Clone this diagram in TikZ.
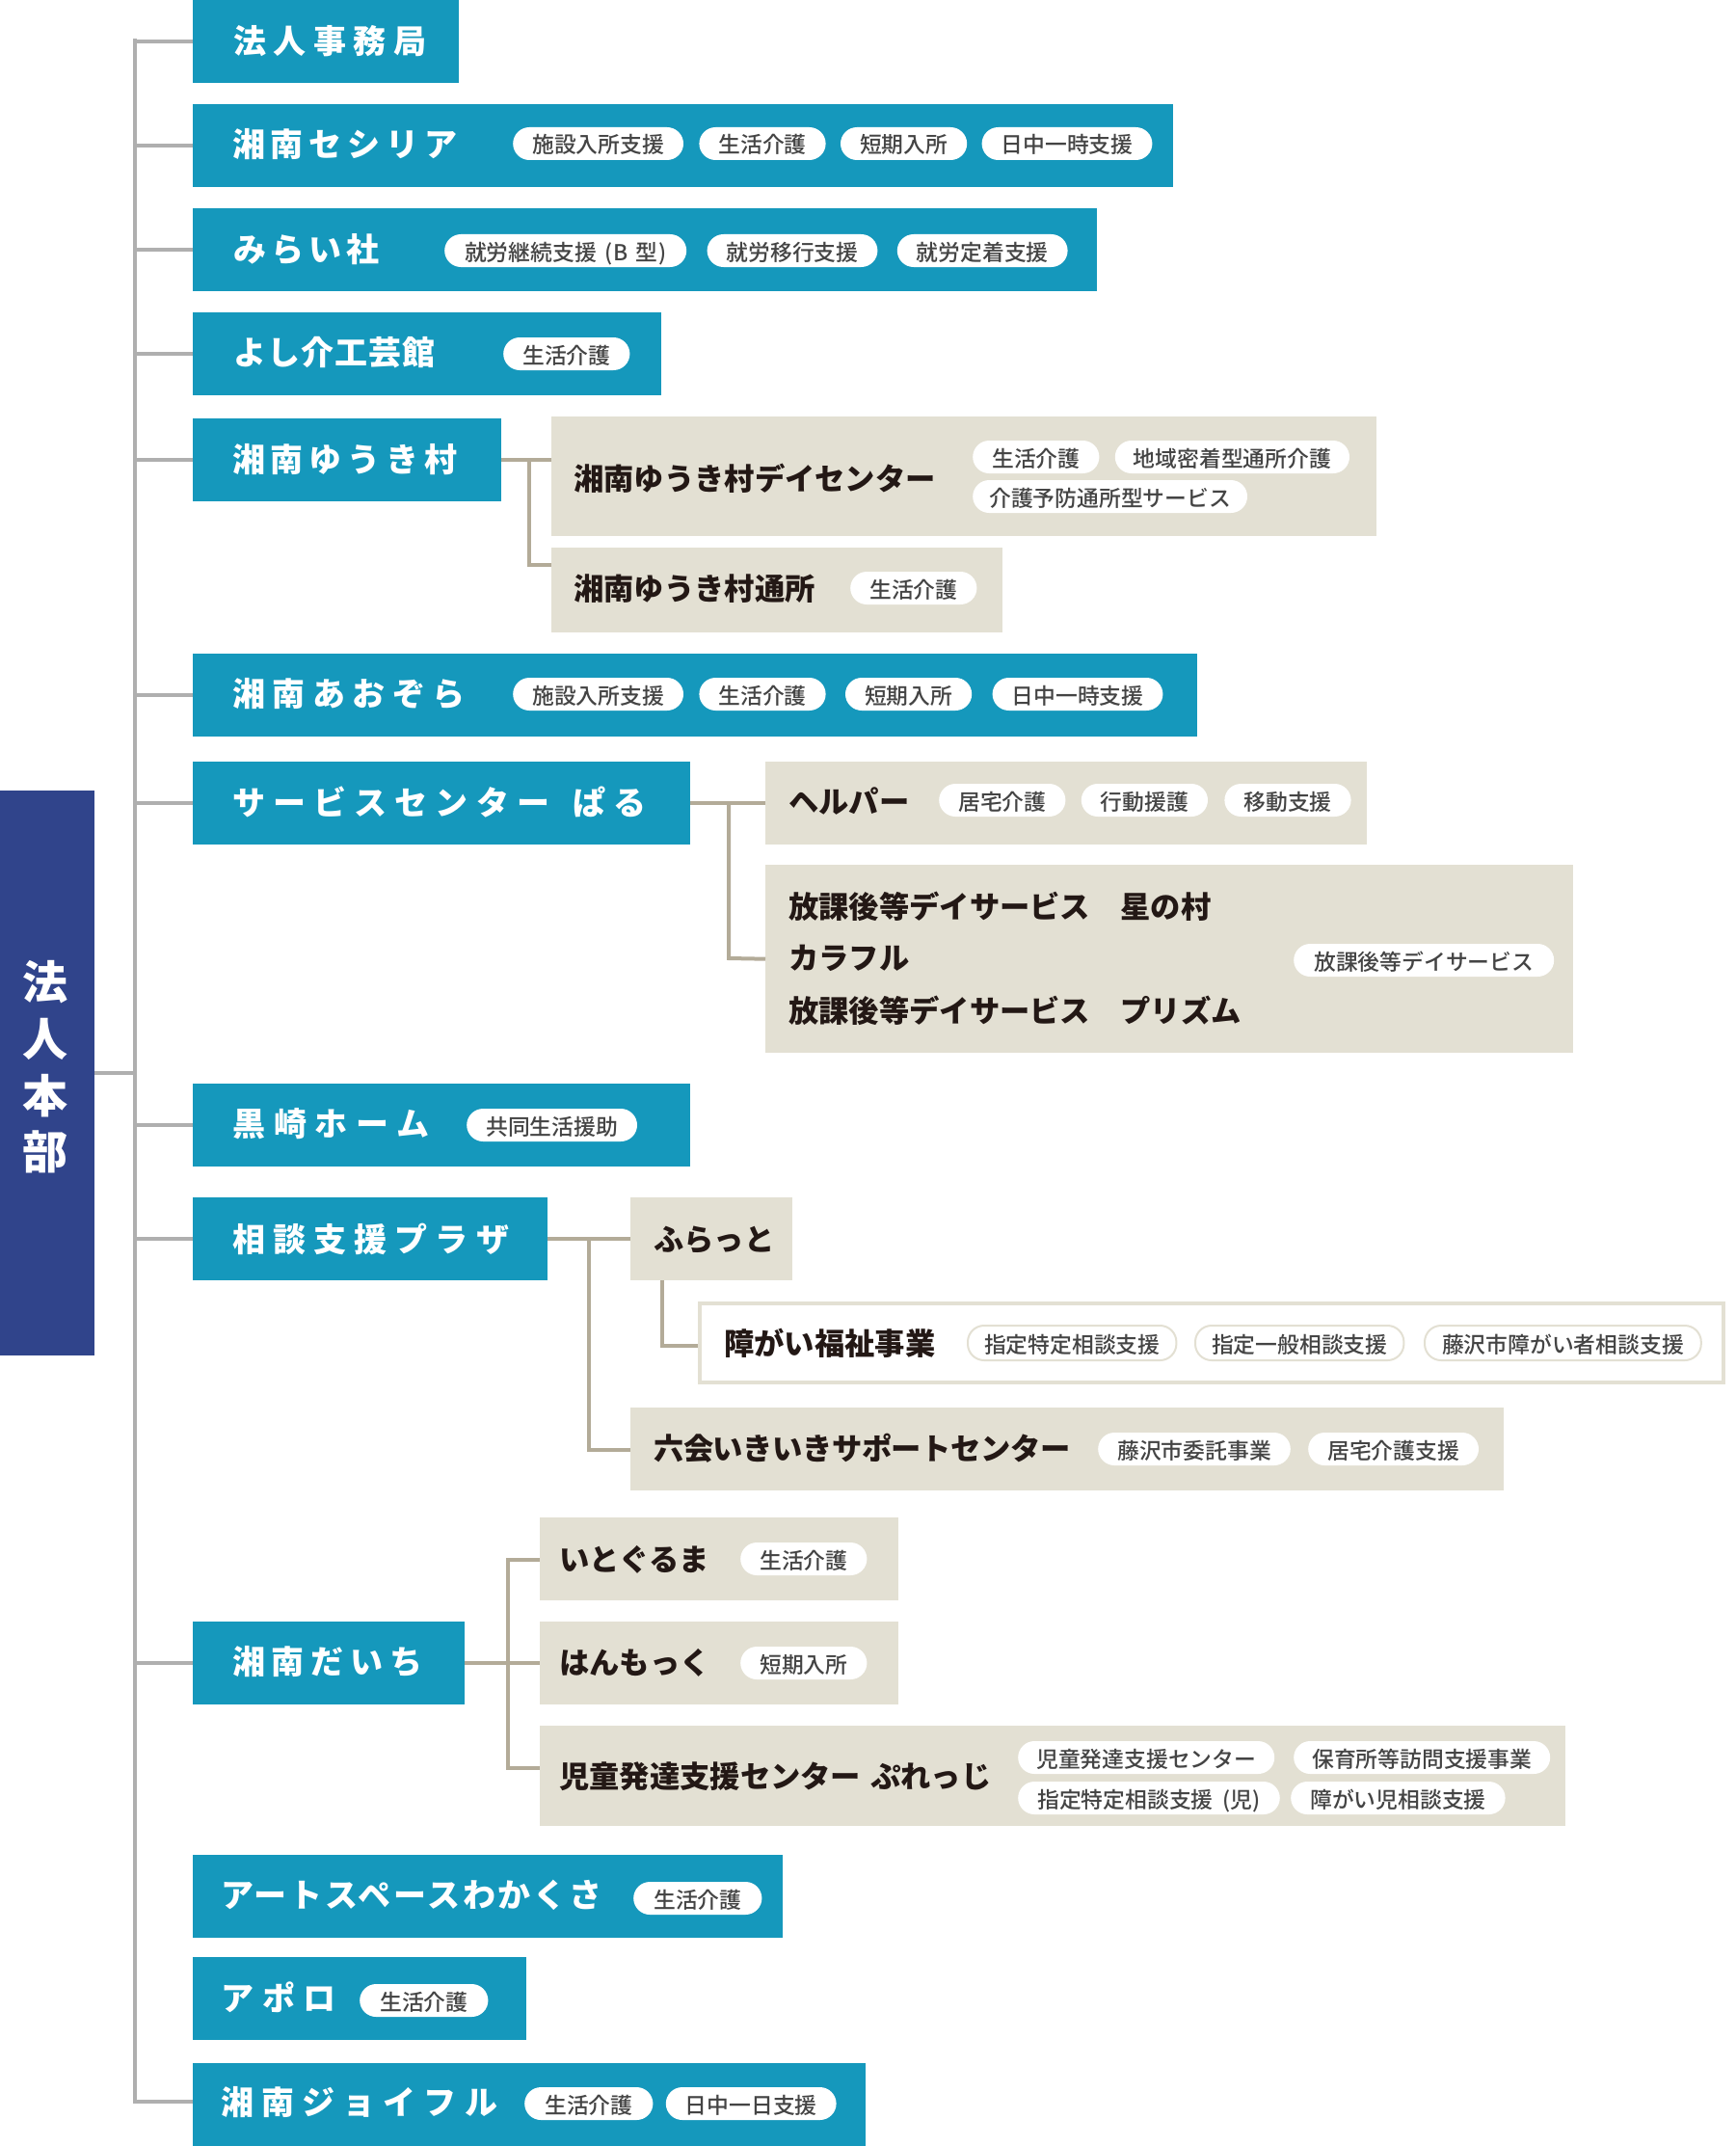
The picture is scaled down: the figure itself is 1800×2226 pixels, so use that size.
\documentclass[tikz,border=0pt]{standalone}
\usepackage{fontspec}
\setmainfont{Noto Sans CJK JP}
\newfontfamily\tagfont{Noto Sans CJK JP Medium}
\usetikzlibrary{positioning}
\definecolor{mainblue}{HTML}{1598BC}
\definecolor{rootblue}{HTML}{30448B}
\definecolor{subbeige}{HTML}{E3E0D3}
\definecolor{subline}{HTML}{B3AB98}
\definecolor{trunkgray}{HTML}{AFAFAF}
\definecolor{subtext}{HTML}{231815}
\definecolor{tagtext}{HTML}{444444}
\tikzset{
  mainbox/.style={fill=mainblue,anchor=north west,minimum height=86pt,inner sep=0pt},
  subbox/.style={fill=subbeige,anchor=north west,minimum height=86pt,inner sep=0pt},
  outbox/.style={draw=subbeige,line width=4pt,fill=white,anchor=north west,inner sep=0pt},
  maintitle/.style={anchor=west,inner sep=0pt,text=white,font=\fontsize{34}{34}\selectfont\bfseries\addfontfeature{LetterSpace=#1}},
  subtitle/.style={anchor=west,inner sep=0pt,text=subtext,font=\fontsize{31.3}{31.3}\selectfont\bfseries\addfontfeature{LetterSpace=#1}},
  subtitle/.default=0,
  tag/.style={fill=white,rounded corners=17pt,anchor=west,minimum height=34pt,inner xsep=20pt,inner ysep=0pt,text height=23pt,text depth=3pt,text=tagtext,font=\tagfont\fontsize{22.8}{22.8}\selectfont},
  outtag/.style={tag,draw=subbeige,line width=2pt,minimum height=36pt,inner xsep=17pt},
  trunkline/.style={draw=trunkgray,line width=4pt},
  joinline/.style={draw=subline,line width=4pt}
}
\begin{document}
\begin{tikzpicture}[x=1pt,y=-1pt]
\useasboundingbox (0,0) rectangle (1800,2226);

\coordinate (trunktop) at (140,42);
\coordinate (trunkbot) at (140,2180);
\draw[trunkline,line cap=rect] (trunktop) -- (trunkbot);

\node[fill=rootblue,anchor=north west,minimum width=98pt,minimum height=586pt,inner sep=0pt] (honbu) at (0,820) {};
\node[inner sep=0pt,align=center,text=white,font=\fontsize{47}{58.6}\selectfont\bfseries] (honbut) at (47,1107) {法\\人\\本\\部};
\draw[trunkline] (honbu.east) -- (trunktop |- honbu.east);

% main rows
\node[mainbox,minimum width=276pt] (n1) at (200,0) {};
\node[mainbox,minimum width=1017pt] (n2) at (200,108) {};
\node[mainbox,minimum width=938pt] (n3) at (200,216) {};
\node[mainbox,minimum width=486pt] (n4) at (200,324) {};
\node[mainbox,minimum width=320pt] (n5) at (200,434) {};
\node[mainbox,minimum width=1042pt] (n6) at (200,678) {};
\node[mainbox,minimum width=516pt] (n7) at (200,790) {};
\node[mainbox,minimum width=516pt] (n8) at (200,1124) {};
\node[mainbox,minimum width=368pt] (n9) at (200,1242) {};
\node[mainbox,minimum width=282pt] (n10) at (200,1682) {};
\node[mainbox,minimum width=612pt] (n11) at (200,1924) {};
\node[mainbox,minimum width=346pt] (n12) at (200,2030) {};
\node[mainbox,minimum width=698pt] (n13) at (200,2140) {};

\foreach \n in {n1,n2,n3,n4,n5,n6,n7,n8,n9,n10}
  \draw[trunkline] (trunktop |- \n.west) -- (\n.west);
\draw[trunkline] (trunkbot) -- (n13.west |- trunkbot);

\node[maintitle=22] (n1t) at (242,43) {法人事務局};
\node[maintitle=17] (n2t) at (241,150) {湘南セシリア};
\node[maintitle=15] (n3t) at (242,259) {みらい社};
\node[maintitle=3] (n4t) at (242,366) {よし介工芸館};
\node[maintitle=17] (n5t) at (241,477) {湘南ゆうき村};
\node[maintitle=22] (n6t) at (241,720) {湘南あおぞら};
\node[maintitle=24] (n7t) at (241,832) {サービスセンター\hspace{8pt} ぱる};
\node[maintitle=26] (n8t) at (241,1166) {黒崎ホーム};
\node[maintitle=24] (n9t) at (241,1285) {相談支援プラザ};
\node[maintitle=20] (n10t) at (241,1724) {湘南だいち};
\node[maintitle=8] (n11t) at (229,1966) {アートスペースわかくさ};
\node[maintitle=26] (n12t) at (229,2072) {アポロ};
\node[maintitle=24] (n13t) at (229,2181) {湘南ジョイフル};

% tags on main rows
\node[tag] (t21) at (532,149) {施設入所支援};
\node[tag,right=16pt of t21] (t22) {生活介護};
\node[tag,right=15pt of t22] (t23) {短期入所};
\node[tag,right=15pt of t23] (t24) {日中一時支援};

\node[tag,minimum width=251pt] (t31) at (461,260) {就労継続支援\hspace{4pt} (B\hspace{3pt} 型\hspace{1pt})};
\node[tag,right=21pt of t31] (t32) {就労移行支援};
\node[tag,right=20pt of t32] (t33) {就労定着支援};

\node[tag] (t41) at (522,367) {生活介護};

\node[tag] (t61) at (532,720) {施設入所支援};
\node[tag,right=16pt of t61] (t62) {生活介護};
\node[tag,right=20pt of t62] (t63) {短期入所};
\node[tag,right=21pt of t63] (t64) {日中一時支援};

\node[tag] (t81) at (484,1167) {共同生活援助};
\node[tag,inner xsep=21pt] (t111) at (657,1969) {生活介護};
\node[tag,inner xsep=21pt] (t121) at (373,2075) {生活介護};
\node[tag,inner xsep=21pt] (t131) at (544,2182) {生活介護};
\node[tag,right=13pt of t131] (t132) {日中一日支援};

% shonan yuuki mura
\node[subbox,minimum width=856pt,minimum height=124pt] (s5a) at (572,432) {};
\node[subbox,minimum width=468pt,minimum height=88pt] (s5b) at (572,568) {};
\node[subtitle] (s5at) at (595,496) {湘南ゆうき村デイセンター};
\node[subtitle] (s5bt) at (595,611) {湘南ゆうき村通所};
\node[tag] (t5a1) at (1009,474) {生活介護};
\node[tag,inner xsep=19pt,right=16pt of t5a1] (t5a2) {地域密着型通所介護};
\node[tag,inner xsep=17pt] (t5a3) at (1009,515) {介護予防通所型サービス};
\node[tag] (t5b1) at (882,610) {生活介護};
\coordinate (j5) at (549,586);
\draw[joinline] (n5.east) -- (s5a.west |- n5.east);
\draw[joinline] (j5 |- n5.east) -- (j5) -- (s5b.west |- j5);

% service center
\node[subbox,minimum width=624pt] (s7a) at (794,790) {};
\node[subbox,minimum width=838pt,minimum height=195pt] (s7b) at (794,897) {};
\node[subtitle] (s7at) at (818,831) {ヘルパー};
\node[tag] (t7a1) at (974,830) {居宅介護};
\node[tag,right=16pt of t7a1] (t7a2) {行動援護};
\node[tag,right=17pt of t7a2] (t7a3) {移動支援};
\node[subtitle] (s7b1) at (818,940) {放課後等デイサービス　星の村};
\node[subtitle] (s7b2) at (818,994) {カラフル};
\node[subtitle] (s7b3) at (818,1048) {放課後等デイサービス　プリズム};
\node[tag,inner xsep=21pt] (t7b1) at (1342,996) {放課後等デイサービス};
\coordinate (j7) at (756,994);
\draw[joinline] (n7.east) -- (s7a.west |- n7.east);
\draw[joinline] (j7 |- n7.east) -- (j7) -- (s7b.west);

% soudan shien plaza
\node[subbox,minimum width=168pt] (s9a) at (654,1242) {};
\node[outbox,minimum width=1062pt,minimum height=82pt] (s9b) at (724,1350) {};
\node[subbox,minimum width=906pt] (s9c) at (654,1460) {};
\node[subtitle] (s9at) at (678,1286) {ふらっと};
\node[subtitle] (s9bt) at (751,1393) {障がい福祉事業};
\node[subtitle=-1.5] (s9ct) at (678,1502) {六会いきいきサポートセンター};
\node[outtag] (t9b1) at (1003,1393) {指定特定相談支援};
\node[outtag] (t9b2) at (1239,1393) {指定一般相談支援};
\node[outtag,inner xsep=18pt] (t9b3) at (1477,1393) {藤沢市障がい者相談支援};
\node[tag] (t9c1) at (1139,1503) {藤沢市委託事業};
\node[tag,right=18pt of t9c1] (t9c2) {居宅介護支援};
\coordinate (j9) at (611,1504);
\coordinate (j9b) at (687,1396);
\draw[joinline] (n9.east) -- (s9a.west |- n9.east);
\draw[joinline] (j9 |- n9.east) -- (j9) -- (s9c.west |- j9);
\draw[joinline] (s9a.south -| j9b) -- (j9b) -- (s9b.west |- j9b);

% shonan daiichi
\node[subbox,minimum width=372pt] (s10a) at (560,1574) {};
\node[subbox,minimum width=372pt] (s10b) at (560,1682) {};
\node[subbox,minimum width=1064pt,minimum height=104pt] (s10c) at (560,1790) {};
\node[subtitle] (s10at) at (580,1618) {いとぐるま};
\node[subtitle] (s10bt) at (580,1725) {はんもっく};
\node[subtitle] (s10ct) at (580,1843) {児童発達支援センター\hspace{3pt} ぷれっじ};
\node[tag] (t10a) at (768,1617) {生活介護};
\node[tag] (t10b) at (768,1725) {短期入所};
\node[tag,inner xsep=19pt] (t10c1) at (1056,1823) {児童発達支援センター};
\node[tag,inner xsep=19pt] (t10c2) at (1342,1823) {保育所等訪問支援事業};
\node[tag,minimum width=266pt] (t10c3) at (1056,1865) {指定特定相談支援\hspace{5pt} (児)};
\node[tag] (t10c4) at (1339,1865) {障がい児相談支援};
\coordinate (j10a) at (527,1618);
\coordinate (j10c) at (527,1834);
\draw[joinline] (n10.east) -- (s10b.west);
\draw[joinline] (s10a.west |- j10a) -- (j10a) -- (j10c) -- (s10c.west |- j10c);
\end{tikzpicture}
\end{document}
